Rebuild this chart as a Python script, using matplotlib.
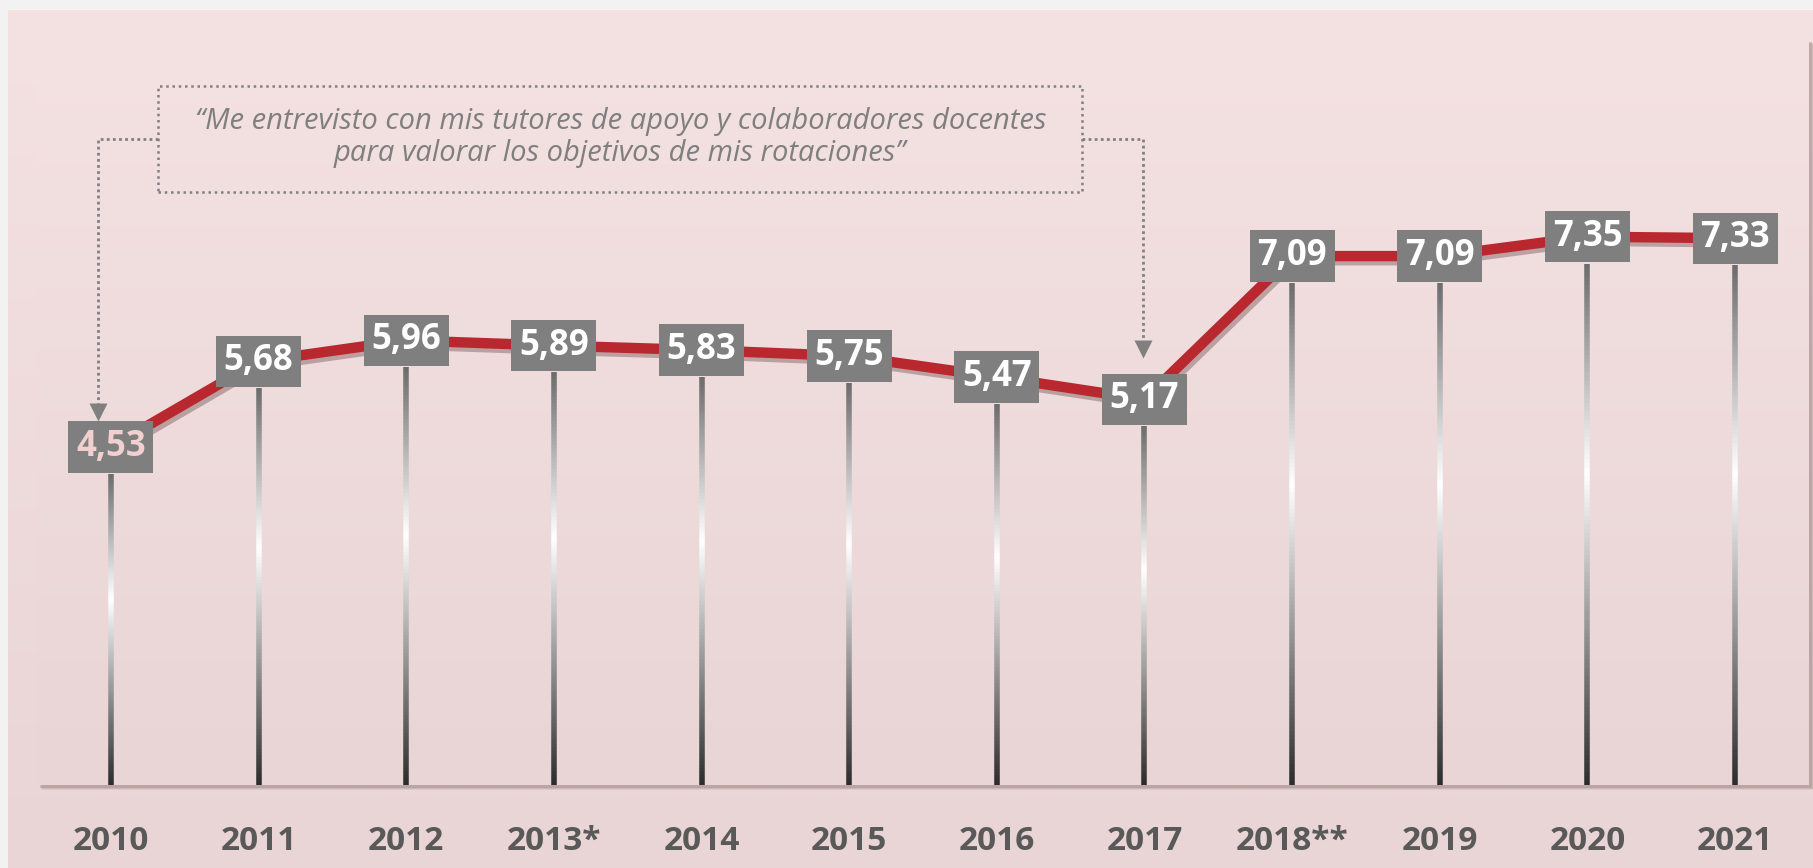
import numpy as np
import matplotlib.pyplot as plt
from matplotlib.collections import LineCollection
from matplotlib.patches import Rectangle
import matplotlib.patheffects as pe

years = ["2010", "2011", "2012", "2013*", "2014", "2015", "2016", "2017",
         "2018**", "2019", "2020", "2021"]
scores = [4.53, 5.68, 5.96, 5.89, 5.83, 5.75, 5.47, 5.17, 7.09, 7.09, 7.35, 7.33]
quote = ("\u201cMe entrevisto con mis tutores de apoyo y colaboradores docentes\n"
         "para valorar los objetivos de mis rotaciones\u201d")

plt.rcParams["font.family"] = ["Open Sans", "DejaVu Sans"]

W, H = 1813, 868
fig = plt.figure(figsize=(W / 100, H / 100), dpi=100)
fig.patch.set_facecolor("#f2f2f2")

# pink panel with a soft vertical gradient
bg = fig.add_axes([8 / W, 0, 1 - 8 / W, 1 - 10 / H], zorder=-5)
top = np.array([244, 225, 226]) / 255
bot = np.array([233, 213, 213]) / 255
t = np.linspace(0, 1, 256)[:, None]
grad = (top[None, :] * (1 - t) + bot[None, :] * t)[:, None, :]
bg.imshow(grad, aspect="auto", extent=[0, 1, 0, 1])
bg.set_axis_off()

# plot area
left, right, ytop, ybot = 37, 1809, 39, 785
rect = [left / W, (H - ybot) / H, (right - left) / W, (ybot - ytop) / H]
# shadow behind the plot area
for k, a in [(5, 0.15), (4, 0.25), (3, 0.35)]:
    bg.add_patch(Rectangle((rect[0] + k / W, rect[1] - k / H), rect[2], rect[3],
                           transform=fig.transFigure, facecolor="#9a8282",
                           edgecolor="none", alpha=a))
# plot area fill, same gradient as the panel
pa = fig.add_axes(rect, zorder=-4)
pa.imshow(grad, aspect="auto", extent=[0, 1, 0, 1])
pa.set_axis_off()

ax = fig.add_axes(rect)
ax.set_facecolor("none")
for s in ax.spines.values():
    s.set_visible(False)
ax.set_xlim(-0.5, len(years) - 0.5)
ax.set_ylim(0, 10)

x = np.arange(len(years))
box_half = 0.36

# drop lines with grey -> white -> black gradient
segs, cols = [], []
stops = [(0.0, (0.42, 0.42, 0.42)), (0.4, (1.0, 1.0, 1.0)), (1.0, (0.17, 0.17, 0.17))]
for xi, v in zip(x, scores):
    y0 = v - box_half
    n = 120
    ys = np.linspace(y0, 0, n + 1)
    for k in range(n):
        segs.append([(xi, ys[k]), (xi, ys[k + 1])])
        f = (k + 0.5) / n
        for (a, ca), (b, cb) in zip(stops[:-1], stops[1:]):
            if a <= f <= b:
                w = (f - a) / (b - a)
                cols.append(tuple(ca[j] * (1 - w) + cb[j] * w for j in range(3)))
                break
ax.add_collection(LineCollection(segs, colors=cols, linewidths=4, zorder=2,
                                 capstyle="butt"))

# main line
ax.plot(x, scores, color="#b8282e", lw=7.5, zorder=3, solid_capstyle="butt",
        path_effects=[pe.SimpleLineShadow(offset=(2, -3), shadow_color="#7a5a5a", alpha=0.45),
                      pe.Normal()])

# value labels
for i, (xi, v) in enumerate(zip(x, scores)):
    ax.text(xi, v, f"{v:.2f}".replace(".", ","), ha="center", va="center",
            fontsize=25, fontweight="bold",
            color="#f2d0d0" if i == 0 else "white", zorder=5,
            bbox=dict(boxstyle="square,pad=0.22", fc="#7f7f7f", ec="none"))

# annotation box with quote
ax.add_patch(Rectangle((0.32, 7.95), 6.26, 1.42, fill=False, ec="#808080",
                       lw=1.8, ls=(0, (1, 1.5)), zorder=4))
ax.text(3.45, 8.68, quote, ha="center", va="center", fontsize=21,
        style="italic", color="#7f7f7f", linespacing=1.15, zorder=4)

# dotted connectors with arrow heads
dot = dict(color="#808080", lw=2, ls=(0, (1, 1.2)), zorder=4)
ax.plot([0.32, -0.09, -0.09], [8.66, 8.66, 5.05], **dot)
ax.plot([-0.09], [5.0], marker="v", ms=13, color="#808080", mec="none", zorder=4)
ax.plot([6.58, 6.99, 6.99], [8.66, 8.66, 5.9], **dot)
ax.plot([6.99], [5.85], marker="v", ms=13, color="#808080", mec="none", zorder=4)

ax.set_yticks([])
ax.set_xticks(x)
ax.set_xticklabels(years, fontsize=24, fontweight="bold", color="#595959")
ax.tick_params(axis="x", length=0, pad=29)

fig.savefig("out.png", dpi=100, facecolor=fig.get_facecolor())
